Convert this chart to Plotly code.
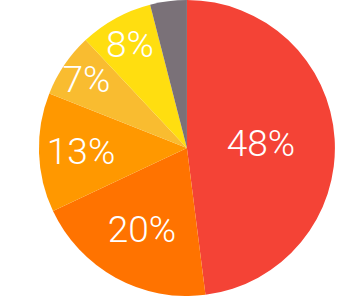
import plotly.graph_objects as go

labels = ["A", "B", "C", "D", "E", "F"]
values = [48, 20, 13, 7, 8, 4]
texts = ["48%", "20%", "13%", "7%", "8%", ""]
colors = ["#F44336", "#FF7300", "#FF9800", "#F9BC30", "#FFDE10", "#7A7178"]

fig = go.Figure(go.Pie(
    labels=labels, values=values, text=texts, textinfo="text",
    sort=False, direction="clockwise", rotation=0,
    marker=dict(colors=colors, line=dict(width=0)),
    textposition="inside", insidetextorientation="horizontal",
    textfont=dict(family="Roboto", size=37, color="white", weight=300),
    domain=dict(x=[0.115, 0.991], y=[0, 1]),
    hoverinfo="none",
))
fig.update_layout(
    width=338, height=296, margin=dict(l=0, r=0, t=0, b=0),
    showlegend=False, paper_bgcolor="white",
    uniformtext=dict(minsize=37, mode="show"),
)
fig.write_html("out.html")
